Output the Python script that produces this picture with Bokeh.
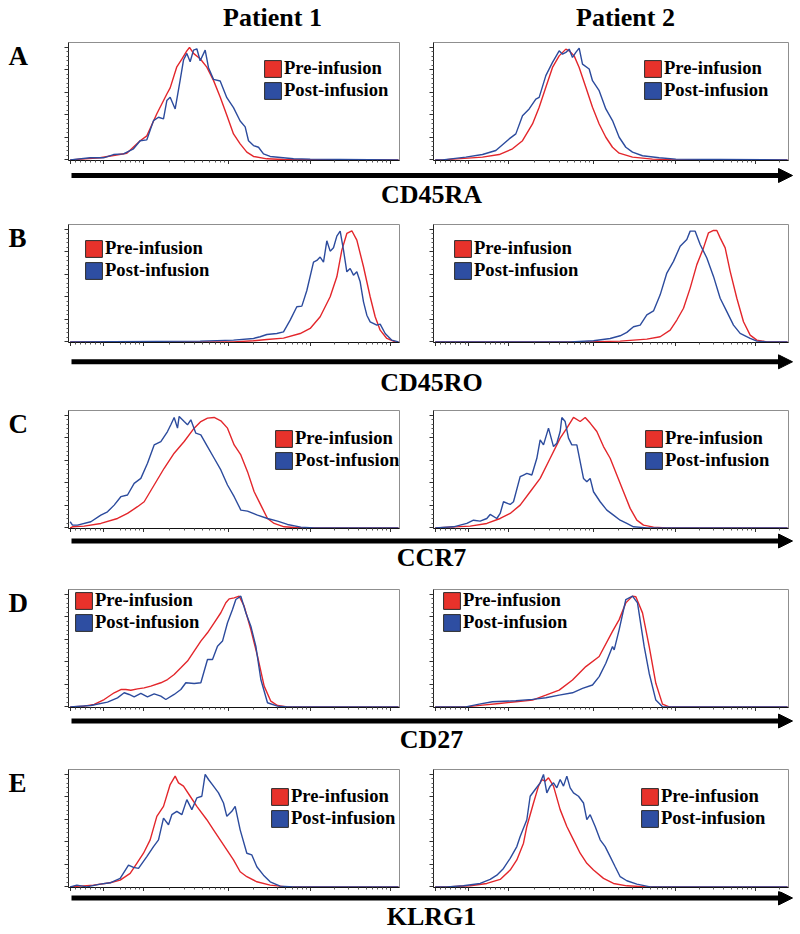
import math
from bokeh.plotting import figure
from bokeh.models import Range1d, LinearAxis, FixedTicker, Legend, LegendItem, Arrow, NormalHead
from bokeh.layouts import column, row
from bokeh.embed import file_html
from bokeh.resources import INLINE
from bokeh.core.properties import value

# ---------------- data (x: fluorescence channel, y: % of max) ----------------
markers = ["CD45RA", "CD45RO", "CCR7", "CD27", "KLRG1"]
row_letters = ["A", "B", "C", "D", "E"]
patients = ["Patient 1", "Patient 2"]
legend_labels = ["Pre-infusion", "Post-infusion"]

cd45ra_p1_pre_x = [5, 95, 175, 215, 235, 265, 295, 305, 325, 340, 355, 363, 375, 395, 415, 435, 455, 475, 495, 515, 535, 555, 595, 645, 990]
cd45ra_p1_pre_y = [0, 1.8, 5.9, 17, 21.3, 41, 58.6, 64, 82.8, 89.6, 97, 100, 94.7, 89.9, 82.5, 70.7, 55.9, 39.6, 23, 14.2, 6.8, 3, 0.9, 0.3, 0]
cd45ra_p1_post_x = [5, 65, 105, 135, 165, 195, 215, 235, 255, 270, 285, 295, 305, 320, 335, 345, 355, 365, 375, 385, 395, 410, 420, 435, 455, 475, 495, 515, 530, 540, 555, 570, 585, 605, 675, 725, 990]
cd45ra_p1_post_y = [0, 1.8, 1.8, 4.7, 5.3, 9.8, 17, 17.8, 34.9, 37.9, 36.4, 52.7, 55.6, 45.3, 71, 88.8, 94.7, 87.3, 97.6, 98.8, 88.2, 97.6, 82, 71.6, 70.1, 55.3, 46.4, 34.6, 29.3, 17, 12.7, 11.2, 5.3, 3, 0.9, 0.6, 0]
cd45ra_p2_pre_x = [5, 27, 147, 197, 237, 267, 297, 317, 337, 357, 377, 397, 407, 422, 437, 457, 477, 497, 517, 537, 557, 597, 657, 727, 1062]
cd45ra_p2_pre_y = [0, 0, 2.4, 4.7, 9.8, 17, 31.9, 46.7, 64.5, 82.2, 92.5, 98.5, 97, 92.5, 82.2, 64.5, 46.7, 31.9, 20.1, 11.2, 5.9, 2.4, 0.6, 0, 0]
cd45ra_p2_post_x = [5, 27, 97, 147, 187, 227, 247, 267, 287, 307, 317, 337, 357, 377, 387, 397, 407, 417, 427, 437, 447, 467, 477, 497, 517, 537, 557, 577, 597, 627, 677, 727, 1062]
cd45ra_p2_post_y = [0, 0, 2.4, 4.7, 8.3, 18.6, 23.1, 39.3, 45.3, 54.1, 55.6, 74.9, 86.7, 97, 94, 95.6, 98.5, 91.1, 95.6, 99.4, 85.2, 80.8, 70.4, 61.5, 45.3, 34.9, 20.1, 11.2, 6.8, 3.6, 1.8, 0.6, 0]

cd45ro_p1_pre_x = [5, 495, 555, 595, 645, 695, 725, 755, 785, 805, 820, 835, 850, 865, 885, 905, 920, 935, 955, 980, 990]
cd45ro_p1_pre_y = [0, 0, 0.9, 2.1, 3.3, 7.4, 11.9, 22.3, 40.1, 57.9, 81.6, 96.4, 98.8, 90.5, 66.8, 40.1, 22.3, 10.4, 3, 0, 0]
cd45ro_p1_post_x = [5, 395, 495, 555, 575, 595, 625, 645, 665, 685, 700, 715, 735, 745, 755, 765, 775, 785, 795, 805, 815, 825, 835, 845, 855, 865, 875, 885, 895, 905, 925, 935, 950, 970, 990]
cd45ro_p1_post_y = [0, 0.6, 1.5, 3, 4.5, 6.5, 7.4, 8.9, 19.3, 31.2, 31.8, 45.7, 70.9, 72.4, 75.4, 70.9, 89.9, 80.7, 83.7, 94.1, 98.5, 81.6, 62.3, 65.3, 59.3, 62.3, 53.4, 35.6, 23.7, 17.8, 14.8, 15.7, 7.4, 1.5, 0]
cd45ro_p2_pre_x = [5, 460, 560, 640, 680, 710, 730, 750, 770, 790, 810, 825, 840, 850, 860, 875, 890, 910, 930, 950, 970, 1000, 1062]
cd45ro_p2_pre_y = [0, 0, 0.6, 2.4, 4.5, 10.4, 19.4, 29.9, 47.8, 68.7, 83.6, 97, 99.1, 99.1, 92.5, 83.6, 62.7, 38.8, 17.9, 6, 1.5, 0, 0]
cd45ro_p2_post_x = [5, 410, 480, 530, 560, 580, 600, 620, 640, 660, 680, 700, 720, 740, 760, 770, 785, 800, 820, 840, 860, 880, 900, 920, 950, 970, 1000, 1062]
cd45ro_p2_post_y = [0, 0, 0.9, 3, 5.4, 8.4, 13.4, 14.9, 23.9, 27.5, 41.8, 61.2, 71.6, 85.1, 91, 98.5, 98.5, 86.6, 74.6, 58.2, 38.8, 26.9, 14.9, 7.5, 3, 0.6, 0, 0]

ccr7_p1_pre_x = [5, 12, 47, 97, 147, 177, 207, 227, 257, 287, 317, 347, 377, 397, 417, 437, 457, 477, 497, 517, 537, 557, 577, 597, 617, 647, 677, 717, 990]
ccr7_p1_pre_y = [0, 0.9, 1.5, 3.9, 8.3, 12.8, 18.8, 23.2, 38.1, 53, 66.4, 76.8, 88.7, 94.6, 97.6, 98.2, 95.2, 88.7, 73.8, 64.9, 50, 32.1, 20.2, 8.3, 3.9, 0.9, 0.3, 0, 0]
ccr7_p1_post_x = [5, 12, 27, 67, 97, 117, 137, 157, 177, 197, 217, 237, 257, 277, 297, 307, 317, 327, 332, 347, 357, 367, 382, 397, 417, 437, 457, 477, 497, 517, 537, 567, 597, 627, 657, 697, 737, 990]
ccr7_p1_post_y = [5.4, 2.4, 2.4, 5.4, 11.3, 14.3, 20.2, 27.7, 29.2, 39.6, 44, 57.4, 73.8, 76.8, 85.7, 91.7, 98.2, 88.7, 99.1, 94.6, 91.7, 96.1, 84.2, 82.7, 72.3, 61.9, 51.5, 38.1, 27.7, 15.8, 14.9, 11.3, 8.3, 6, 3, 0.6, 0, 0]
ccr7_p2_pre_x = [5, 110, 160, 200, 230, 260, 290, 320, 350, 380, 400, 420, 440, 455, 470, 490, 510, 530, 550, 570, 590, 610, 630, 660, 700, 1062]
ccr7_p2_pre_y = [0, 1.5, 3.9, 8.3, 12.8, 20.2, 32.1, 44, 61.9, 79.8, 88.7, 98.2, 94.6, 98.2, 93.2, 85.7, 72.3, 61.9, 47, 32.1, 17.3, 6.8, 2.4, 0.6, 0, 0]
ccr7_p2_post_x = [5, 60, 100, 120, 140, 160, 170, 190, 200, 210, 230, 240, 260, 270, 280, 295, 310, 320, 330, 345, 360, 370, 380, 385, 395, 405, 415, 430, 450, 460, 470, 480, 500, 520, 540, 560, 580, 600, 640, 1062]
ccr7_p2_post_y = [0, 0.9, 3.9, 6.8, 6, 8.3, 11.9, 8.3, 12.8, 23.2, 20.8, 23.2, 45.5, 47, 48.5, 47, 61.9, 78.3, 73.8, 88.7, 72.3, 75.3, 85.7, 98.2, 94.6, 79.8, 73.8, 73.8, 44, 41.1, 44, 32.1, 23.2, 15.8, 11.3, 6.8, 3.9, 0.9, 0, 0]

cd27_p1_pre_x = [5, 47, 77, 107, 137, 157, 172, 187, 207, 227, 247, 277, 297, 317, 337, 357, 377, 397, 417, 437, 457, 472, 482, 497, 512, 527, 547, 567, 587, 607, 627, 657, 990]
cd27_p1_pre_y = [0, 0.6, 2.1, 6.5, 12.5, 15.4, 15.4, 14.8, 16, 16.9, 18.4, 21.4, 24.3, 28.8, 34.7, 40.7, 49.6, 58.5, 65.9, 74.8, 83.7, 92.6, 96.1, 97, 98.5, 89.6, 68.8, 45.1, 18.4, 5, 1.2, 0, 0]
cd27_p1_post_x = [5, 67, 117, 147, 167, 182, 197, 217, 237, 257, 277, 292, 317, 337, 352, 377, 397, 417, 432, 447, 462, 477, 492, 502, 517, 532, 547, 562, 577, 597, 627, 657, 990]
cd27_p1_post_y = [0, 1.2, 4.2, 8, 12.5, 11, 8.9, 11.9, 8.9, 11.6, 9.5, 6.5, 11, 15.4, 21.4, 20.8, 21.4, 42.1, 42.1, 54, 58.5, 74.8, 86.6, 95.5, 98.5, 83.7, 71.8, 54, 24.3, 3.6, 0.6, 0, 0]
cd27_p2_pre_x = [5, 97, 147, 197, 247, 297, 337, 377, 417, 457, 497, 537, 557, 577, 597, 607, 627, 647, 667, 687, 707, 1062]
cd27_p2_pre_y = [0, 0, 1.5, 3, 4.5, 6, 10.4, 14.9, 23.9, 35.8, 44.8, 67.2, 77.6, 92.5, 98.5, 97.9, 83.6, 53.7, 20.9, 2.4, 0, 0]
cd27_p2_post_x = [5, 97, 137, 177, 247, 297, 337, 377, 417, 447, 477, 497, 517, 537, 542, 557, 577, 597, 612, 632, 647, 667, 687, 1062]
cd27_p2_post_y = [0, 0, 2.4, 4.5, 5.4, 6.6, 8.1, 10.4, 12.5, 16.4, 19.4, 26.9, 38.8, 53.7, 50.7, 68.7, 95.5, 98.5, 92.5, 53.7, 29.9, 6, 0, 0]

klrg1_p1_pre_x = [5, 75, 125, 155, 185, 205, 225, 245, 265, 285, 305, 320, 330, 345, 365, 385, 415, 435, 455, 475, 495, 515, 535, 565, 605, 655, 990]
klrg1_p1_pre_y = [0, 1.5, 3.6, 6, 11.9, 20.9, 29.9, 41.8, 62.7, 71.6, 91, 98.5, 92.5, 89.6, 80.6, 71.6, 59.7, 50.7, 41.8, 32.8, 23.9, 13.4, 9, 4.5, 1.5, 0, 0]
klrg1_p1_post_x = [5, 25, 55, 95, 125, 155, 180, 195, 210, 235, 255, 270, 285, 300, 310, 325, 340, 355, 370, 385, 400, 410, 420, 435, 450, 465, 475, 490, 500, 515, 535, 550, 565, 585, 605, 635, 675, 990]
klrg1_p1_post_y = [0, 1.5, 0, 2.4, 3.6, 7.5, 19.4, 17.3, 16.4, 26.9, 35.8, 41.8, 61.2, 55.2, 64.2, 67.2, 64.2, 77.6, 68.7, 79.1, 80.6, 100, 95.5, 89.6, 83.6, 74.6, 62.7, 67.2, 71.6, 50.7, 29.9, 28.4, 17.9, 10.4, 4.5, 0.6, 0, 0]
klrg1_p2_pre_x = [5, 40, 110, 160, 200, 230, 250, 270, 280, 300, 315, 325, 335, 345, 360, 380, 400, 420, 440, 460, 480, 510, 540, 580, 640, 1062]
klrg1_p2_pre_y = [0, 0, 0.9, 3, 6.6, 14.9, 23.9, 38.8, 53.7, 74.6, 89.6, 95.5, 94, 97, 89.6, 68.7, 53.7, 41.8, 29.9, 20.9, 14.9, 7.5, 3, 0.9, 0, 0]
klrg1_p2_post_x = [5, 40, 90, 140, 170, 190, 210, 230, 250, 260, 280, 290, 305, 320, 330, 340, 350, 360, 370, 380, 390, 400, 410, 420, 435, 450, 460, 470, 485, 500, 515, 530, 545, 560, 580, 610, 650, 1062]
klrg1_p2_post_y = [0, 0, 0.9, 3, 6.6, 10.4, 16.4, 25.4, 35.8, 44.8, 59.7, 80.6, 86.6, 92.5, 100, 83.6, 89.6, 92.5, 88.1, 95.5, 89.6, 98.5, 88.1, 83.6, 80.6, 74.6, 59.7, 64.2, 53.7, 41.8, 35.8, 26.9, 17.9, 9, 5.4, 2.4, 0, 0]

curves = [
    [(cd45ra_p1_pre_x, cd45ra_p1_pre_y, cd45ra_p1_post_x, cd45ra_p1_post_y),
     (cd45ra_p2_pre_x, cd45ra_p2_pre_y, cd45ra_p2_post_x, cd45ra_p2_post_y)],
    [(cd45ro_p1_pre_x, cd45ro_p1_pre_y, cd45ro_p1_post_x, cd45ro_p1_post_y),
     (cd45ro_p2_pre_x, cd45ro_p2_pre_y, cd45ro_p2_post_x, cd45ro_p2_post_y)],
    [(ccr7_p1_pre_x, ccr7_p1_pre_y, ccr7_p1_post_x, ccr7_p1_post_y),
     (ccr7_p2_pre_x, ccr7_p2_pre_y, ccr7_p2_post_x, ccr7_p2_post_y)],
    [(cd27_p1_pre_x, cd27_p1_pre_y, cd27_p1_post_x, cd27_p1_post_y),
     (cd27_p2_pre_x, cd27_p2_pre_y, cd27_p2_post_x, cd27_p2_post_y)],
    [(klrg1_p1_pre_x, klrg1_p1_pre_y, klrg1_p1_post_x, klrg1_p1_post_y),
     (klrg1_p2_pre_x, klrg1_p2_pre_y, klrg1_p2_post_x, klrg1_p2_post_y)],
]

# ---------------- styling / layout ----------------
SERIF = "Liberation Serif"
RED = "#e3262b"
BLUE = "#2c4b9d"
RED_FILL = "#e8322b"
BLUE_FILL = "#2e4ea2"
TOTAL_W = 800
FRAME_H = 118
PANEL_H = 124  # 2 top border + frame + 4 bottom border
LETTER_W = 40
LEFT_W, LEFT_BL, LEFT_BR, LEFT_XMAX = 376, 28, 17, 993
RIGHT_W, RIGHT_BL, RIGHT_BR, RIGHT_XMAX = 384, 17, 12, 1065
TEXT_SHIFT = 9.5  # svg text baseline correction

legend_pos = [[(194, 17), (209, 17)],
              [(15, 15), (19, 15)],
              [(205, 19), (210, 19)],
              [(5, 2), (8, 2)],
              [(201, 18), (206, 18)]]
# strip under each row: height, arrow y, label baseline y
strips = [(58, 11, 39), (62, 15.3, 45), (55, 8.5, 34), (56, 9.5, 37), (43, 6.5, 34)]

major_x = [5, 105, 225, 480, 725, 965, 1210]
minor_x = [20, 35, 50, 65, 80, 95, 155, 170, 185, 200, 212]
for a, b in zip(major_x[2:-1], major_x[3:]):
    for k in range(2, 10):
        minor_x.append(a + (b - a) * math.log10(k))
major_y = [0, 20, 40, 60, 80, 100]
minor_y = [v for v in range(0, 101, 4) if v % 20]
NAN = float("nan")


def blank(w, h):
    p = figure(width=w, height=h, x_range=Range1d(0, w), y_range=Range1d(h, 0),
               x_axis_type=None, y_axis_type=None, output_backend="svg",
               toolbar_location=None, min_border=0)
    p.min_border_left = p.min_border_right = p.min_border_top = p.min_border_bottom = 0
    p.outline_line_color = None
    p.grid.visible = False
    p.background_fill_color = "white"
    p.border_fill_color = "white"
    return p


def bold_text(p, xs, ys, texts, size, align):
    p.text(x=xs, y=[y - TEXT_SHIFT * size / 26.0 for y in ys], text=texts,
           text_font=value(SERIF), text_font_style="bold", text_font_size=f"{size}px",
           text_align=align, text_baseline="alphabetic", text_color="black")


def make_axis(ticks, minors, line_color):
    return LinearAxis(ticker=FixedTicker(ticks=ticks, minor_ticks=minors),
                      major_label_text_color=None, major_label_text_font_size="1px",
                      major_label_standoff=0,
                      major_tick_out=4, major_tick_in=0, minor_tick_out=2, minor_tick_in=0,
                      axis_line_color=line_color, major_tick_line_color="#333333",
                      minor_tick_line_color="#5a5a5a")


def panel(data, width, bl, br, xmax, leg):
    pre_x, pre_y, post_x, post_y = data
    p = figure(width=width, height=PANEL_H, x_range=Range1d(0, xmax), y_range=Range1d(-0.6, 104.4),
               x_axis_type=None, y_axis_type=None, output_backend="svg", toolbar_location=None,
               min_border_left=bl, min_border_right=br, min_border_top=2, min_border_bottom=4)
    p.outline_line_color = "#8f8f8f"
    p.outline_line_width = 1
    p.grid.visible = False
    p.border_fill_color = "white"
    p.add_layout(make_axis(major_x, minor_x, "#111111"), "below")
    p.add_layout(make_axis(major_y, minor_y, "#222222"), "left")
    p.line(pre_x, pre_y, line_color=RED, line_width=1.4)
    p.line(post_x, post_y, line_color=BLUE, line_width=1.4)
    # legend-only swatches (no visible data)
    r_pre = p.quad(left=[NAN], right=[NAN], top=[NAN], bottom=[NAN],
                   fill_color=RED_FILL, line_color="#2a2a2a", line_width=1)
    r_post = p.quad(left=[NAN], right=[NAN], top=[NAN], bottom=[NAN],
                    fill_color=BLUE_FILL, line_color="#2a2a2a", line_width=1)
    dx, dy = leg
    lg = Legend(items=[LegendItem(label=legend_labels[0], renderers=[r_pre]),
                       LegendItem(label=legend_labels[1], renderers=[r_post])],
                location=(dx, FRAME_H - dy - 42), orientation="vertical",
                glyph_width=21, glyph_height=21, label_height=21, label_width=20,
                label_standoff=1, spacing=0, padding=0, margin=0,
                label_text_font=SERIF, label_text_font_style="bold",
                label_text_font_size="18.6px", label_text_color="black",
                background_fill_alpha=0, border_line_color=None)
    p.add_layout(lg)
    return p


children = []
header = blank(TOTAL_W, 40)
bold_text(header, [272, 625], [26, 26], patients, 26, "center")
children.append(header)

for i in range(5):
    lf = blank(LETTER_W, PANEL_H)
    bold_text(lf, [8], [24], [row_letters[i]], 27, "left")
    p1 = panel(curves[i][0], LEFT_W, LEFT_BL, LEFT_BR, LEFT_XMAX, legend_pos[i][0])
    p2 = panel(curves[i][1], RIGHT_W, RIGHT_BL, RIGHT_BR, RIGHT_XMAX, legend_pos[i][1])
    children.append(row(lf, p1, p2, spacing=0))
    h, ay, ly = strips[i]
    s = blank(TOTAL_W, h)
    s.add_layout(Arrow(end=NormalHead(size=14, fill_color="black", line_color="black", line_width=1),
                       x_start=71, y_start=ay, x_end=792, y_end=ay,
                       line_width=5, line_color="black"))
    bold_text(s, [431], [ly], [markers[i]], 26, "center")
    children.append(s)

layout = column(*children, spacing=0)

with open("out.html", "w") as f:
    f.write(file_html(layout, INLINE))
